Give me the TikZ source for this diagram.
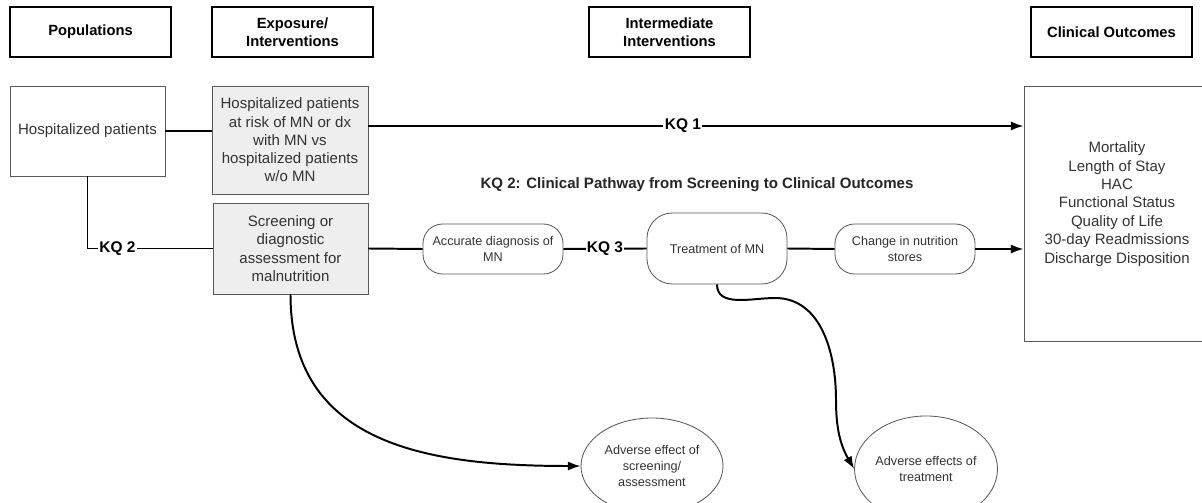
\documentclass[tikz,border=0pt]{standalone}
\usepackage{fontspec}
\setmainfont{Liberation Sans}
\usetikzlibrary{shapes.geometric,arrows.meta}

\begin{document}
\begin{tikzpicture}[x=0.025cm, y=0.025cm,
  header/.style={draw=black, line width=1.5pt, minimum width=4.02cm, minimum height=1.25cm,
    align=center, font=\fontsize{10.5}{12.8}\selectfont\bfseries},
  plainbox/.style={draw=gray!70!black, line width=0.6pt, align=center, text=black!80,
    font=\fontsize{10.7}{13}\selectfont},
  greybox/.style={plainbox, fill=gray!13},
  roundbox/.style={draw=gray!70!black, line width=0.6pt, rounded corners=14pt, align=center,
    text=black!80, minimum width=3.5cm, font=\fontsize{9}{11.4}\selectfont},
  oval/.style={ellipse, draw=gray!70!black, line width=0.6pt, align=center, inner sep=0pt,
    text=black!80, minimum width=3.55cm, font=\fontsize{9}{11.7}\selectfont},
  conn/.style={line width=1.4pt, >={Latex[length=9pt,width=6.5pt]}},
  kq/.style={fill=white, inner sep=1pt, font=\fontsize{11}{13}\selectfont\bfseries}]

\useasboundingbox (0,0) rectangle (1202,-503);

% Column headers
\node[header] (hpop) at (90.5,-32) {Populations};
\node[header] (hexp) at (292.5,-32) {Exposure/\\Interventions};
\node[header] (hint) at (669.5,-32) {Intermediate\\Interventions};
\node[header] (hout) at (1111.5,-32) {Clinical Outcomes};

% Boxes of the first row
\node[plainbox, minimum width=3.875cm, minimum height=2.25cm] (pat) at (87.5,-131) {Hospitalized patients};
\node[greybox, minimum width=3.9cm, minimum height=2.7cm] (risk) at (290,-140)
  {Hospitalized patients\\at risk of MN or dx\\with MN vs\\hospitalized patients\\w/o MN};
\node[plainbox, minimum width=4.8cm, minimum height=6.375cm] (outc) at (1120,-213.5) {};
\node[text=black!80, align=center, font=\fontsize{10.7}{13.1}\selectfont] (outtxt) at (1117,-204)
  {Mortality\\Length of Stay\\HAC\\Functional Status\\Quality of Life\\30-day Readmissions\\Discharge Disposition};

% Clinical pathway
\node[font=\fontsize{10.7}{13}\selectfont\bfseries, text=black!85] (kqtitle) at (697,-185)
  {KQ 2: Clinical Pathway from Screening to Clinical Outcomes};
\node[greybox, minimum width=3.875cm, minimum height=2.275cm] (screen) at (290.5,-248.5)
  {Screening or\\diagnostic\\assessment for\\malnutrition};
\node[roundbox, minimum height=1.25cm] (diag) at (493,-249) {Accurate diagnosis of\\MN};
\node[roundbox, minimum height=1.775cm, rounded corners=18pt] (treat) at (717,-248.5) {Treatment of MN};
\node[roundbox, minimum height=1.25cm] (stores) at (905,-249) {Change in nutrition\\stores};

% Adverse effects
\node[oval, minimum height=2.4cm] (advscr) at (652,-466) {Adverse effect of\\screening/\\assessment};
\node[oval, minimum height=2.65cm] (advtrt) at (926,-469) {Adverse effects of\\treatment};

% Connectors
\draw[conn] (pat.east) -- (pat.east -| risk.west);
\draw[conn,->] ([yshift=0.35cm]risk.east) -- node[kq, pos=0.48] {KQ 1} ([yshift=0.35cm]risk.east -| outc.west);
\draw[conn] (pat.south) |- node[kq, pos=0.62] {KQ 2} (screen.west);
\draw[conn] (screen.east) -- (diag.west);
\draw[conn] (diag.east) -- node[kq] {KQ 3} (treat.west);
\draw[conn] (treat.east) -- (stores.west);
\draw[conn,->] (stores.east) -- (stores.east -| outc.west);

\draw[conn,->] (screen.south) to[out=-90, in=180, looseness=1.15] (advscr.west);

\coordinate (bendA) at (775,-298);
\coordinate (bendB) at (836,-400);
\draw[conn,->] (treat.south) to[out=-90, in=180] (bendA) to[out=0, in=90] (bendB)
  to[out=-90, in=120] (advtrt.west);

\end{tikzpicture}
\end{document}
